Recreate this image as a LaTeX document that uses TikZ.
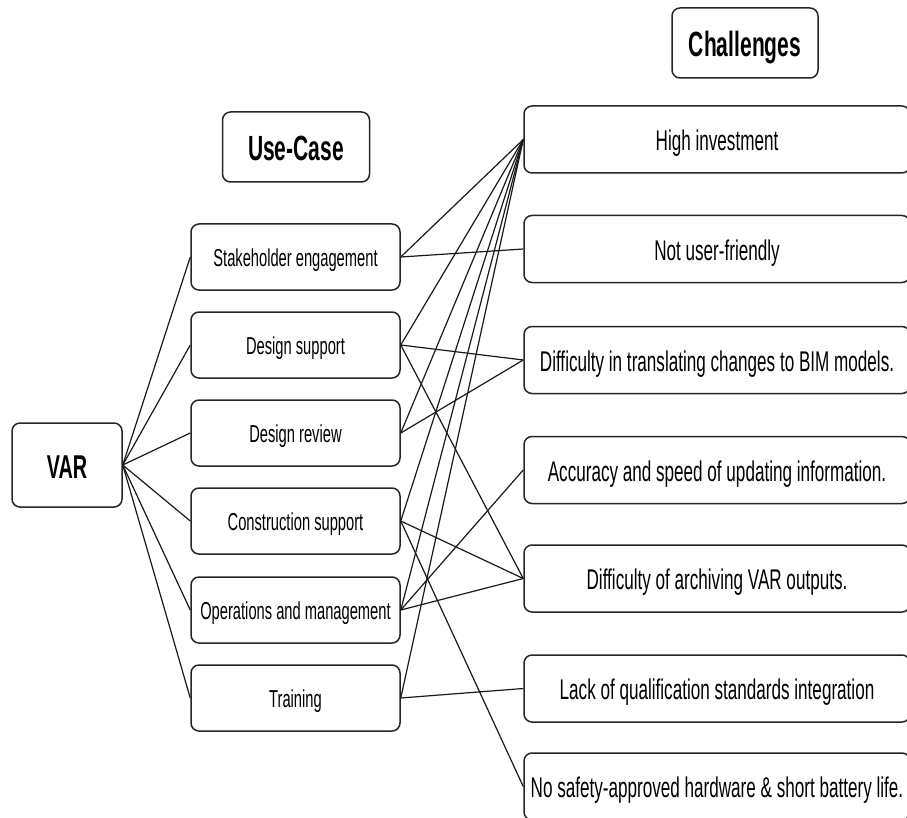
\documentclass[tikz,border=0pt]{standalone}
\usepackage{fontspec}
\setmainfont{Liberation Sans}[FakeStretch=0.6]
\begin{document}
\begin{tikzpicture}[x=1pt,y=-1pt,
  box/.style={draw=black!85, line width=1.5pt, rounded corners=8pt, inner sep=0pt, align=center,
              text depth=0pt},
  usebox/.style={box, minimum width=209pt, minimum height=66pt, text height=19.6pt,
                 font=\fontsize{24.5}{26}\selectfont},
  chbox/.style={box, minimum width=386pt, minimum height=67pt, text height=22.8pt,
                font=\fontsize{28.5}{30}\selectfont},
  head/.style={box, minimum width=146pt, minimum height=70pt, text height=28pt,
               font=\bfseries\fontsize{35}{38}\selectfont},
  link/.style={line width=1.2pt, draw=black!90}]
\useasboundingbox (0,0) rectangle (907,818);
\clip (0,0) rectangle (907,818);

% root and column headings
\node[head, minimum width=110pt, minimum height=84pt, text height=26.4pt,
      font=\bfseries\fontsize{33}{35}\selectfont] (var) at (67,465) {VAR};
\node[head, minimum width=147pt] (uchead) at (296,147) {Use-Case};
\node[head] (chhead) at (745,43) {Challenges};

% use cases
\node[usebox] (sh) at (295.5,257) {Stakeholder engagement};
\node[usebox] (ds) at (295.5,345) {Design support};
\node[usebox] (dr) at (295.5,433) {Design review};
\node[usebox] (cs) at (295.5,521) {Construction support};
\node[usebox] (om) at (295.5,610) {Operations and management};
\node[usebox] (tr) at (295.5,698) {Training};

% challenges
\node[chbox] (hi)   at (717,139.5) {High investment};
\node[chbox] (nuf)  at (717,249)   {Not user-friendly};
\node[chbox] (bim)  at (717,360)   {Difficulty in translating changes to BIM models.};
\node[chbox] (acc)  at (717,470)   {Accuracy and speed of updating information.};
\node[chbox] (arch) at (717,578.5) {Difficulty of archiving VAR outputs.};
\node[chbox] (lack) at (717,688.5) {Lack of qualification standards integration};
\node[chbox] (safe) at (717,786.5) {No safety-approved hardware \& short battery life.};

% VAR to each use case
\foreach \u in {sh,ds,dr,cs,om,tr}
  \draw[link] (var.east) -- (\u.west);

% use cases to challenges
\foreach \u/\c in {sh/hi, sh/nuf,
                   ds/hi, ds/bim, ds/arch,
                   dr/hi, dr/bim,
                   cs/hi, cs/arch, cs/safe,
                   om/hi, om/acc, om/arch,
                   tr/hi, tr/lack}
  \draw[link] (\u.east) -- (\c.west);
\end{tikzpicture}
\end{document}
